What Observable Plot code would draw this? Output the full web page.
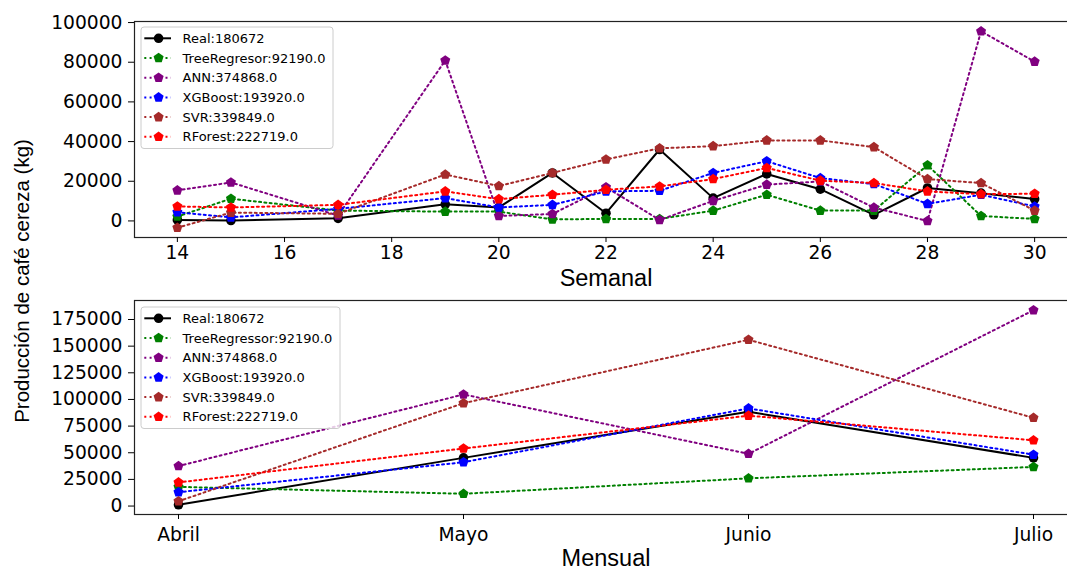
<!DOCTYPE html>
<html><head><meta charset="utf-8">
<script src="https://cdn.jsdelivr.net/npm/d3@7"></script>
<script src="https://cdn.jsdelivr.net/npm/@observablehq/plot@0.6"></script>
<style>
html,body{margin:0;padding:0;background:#fff;overflow:hidden}
#wrap{position:relative;width:1067px;height:571px;overflow:hidden;font-family:"DejaVu Sans",sans-serif;color:#000}
#wrap svg{max-width:none !important;height:auto}
#top,#bottom{position:absolute;left:0;width:1080px}
#top{top:0}
#bottom{top:290px}
.legend{position:absolute}
#ylab{position:absolute;left:0;top:0}
</style></head>
<body><div id="wrap"><div id="top"></div><div id="bottom"></div><svg id="ylab" width="60" height="571"></svg></div>
<script>
// ---- data ----
const weeks = [14, 15, 17, 19, 20, 21, 22, 23, 24, 25, 26, 27, 28, 29, 30];
const realWeekly = [500, 200, 1300, 8400, 6800, 24200, 3900, 36000, 11500, 23700, 16000, 3100, 16600, 14000, 11000];
const treeWeekly = [2200, 11200, 5200, 4700, 4700, 800, 1000, 1000, 5200, 13200, 5200, 5200, 28100, 2500, 1000];
const annWeekly = [15400, 19400, 2700, 80900, 2500, 3500, 17000, 500, 10100, 18300, 19900, 6700, 0, 95600, 80300];
const xgbWeekly = [4400, 1800, 6100, 11500, 6800, 8100, 14900, 15200, 24200, 30100, 21600, 18600, 8600, 13200, 7300];
const svrWeekly = [-3400, 4200, 3600, 23400, 17600, 24200, 31000, 36600, 37700, 40600, 40600, 37200, 21100, 19100, 5200];
const rfWeekly = [7300, 6800, 8100, 14900, 11000, 13200, 15700, 17400, 21100, 26700, 20300, 19100, 14900, 13500, 13700];

const months = ["Abril", "Mayo", "Junio", "Julio"];
const realMonthly = [1200, 45200, 88400, 45200];
const treeMonthly = [18000, 11500, 26000, 36700];
const annMonthly = [37500, 104700, 49000, 183700];
const xgbMonthly = [13000, 41100, 91600, 48200];
const svrMonthly = [4500, 96500, 156000, 82800];
const rfMonthly = [22200, 54000, 84800, 61700];

const seriesColors = ["black", "green", "purple", "blue", "brown", "red"];
const weeklyLegend = ["Real:180672", "TreeRegresor:92190.0", "ANN:374868.0", "XGBoost:193920.0", "SVR:339849.0", "RForest:222719.0"];
const monthlyLegend = ["Real:180672", "TreeRegressor:92190.0", "ANN:374868.0", "XGBoost:193920.0", "SVR:339849.0", "RForest:222719.0"];
const weeklyTicksX = [14, 16, 18, 20, 22, 24, 26, 28, 30];
const weeklyTicksY = [0, 20000, 40000, 60000, 80000, 100000];
const monthlyTicksY = [0, 25000, 50000, 75000, 100000, 125000, 150000, 175000];
const yTitle = "Producción de café cereza (kg)";
const xTitleWeekly = "Semanal";
const xTitleMonthly = "Mensual";

// ---- helpers ----
const pentagon = {
  draw(ctx, size) {
    const r = Math.sqrt(size / Math.PI) * 1.15;
    for (let i = 0; i < 5; i++) {
      const a = -Math.PI / 2 + i * 2 * Math.PI / 5;
      const x = r * Math.cos(a), y = r * Math.sin(a);
      if (i) ctx.lineTo(x, y); else ctx.moveTo(x, y);
    }
    ctx.closePath();
  }
};

function longTable(xs, cols) {
  const rows = [];
  cols.forEach((vals, s) => vals.forEach((v, i) => rows.push({x: xs[i], v, s})));
  return rows;
}

function seriesMarks(rows) {
  const marks = [];
  seriesColors.forEach((c, s) => {
    const d = rows.filter(r => r.s === s);
    const real = s === 0;
    marks.push(Plot.line(d, {x: "x", y: "v", stroke: c, strokeWidth: 2, strokeDasharray: real ? null : "2,3.3", curve: "linear"}));
    marks.push(Plot.dot(d, {x: "x", y: "v", fill: c, stroke: "none", r: real ? 4.8 : 4.6, symbol: real ? "circle" : pentagon}));
  });
  return marks;
}

const FONT = "DejaVu Sans, sans-serif";
const TITLE_FONT = "Liberation Sans, Arial, sans-serif";
const TICK_FS = 18.7;
const TITLE_FS = 23.5;

// ---- top (weekly) ----
const weeklyRows = longTable(weeks, [realWeekly, treeWeekly, annWeekly, xgbWeekly, svrWeekly, rfWeekly]);
const topPlot = Plot.plot({
  width: 1080, height: 290,
  marginTop: 21, marginBottom: 53, marginLeft: 134, marginRight: 3,
  style: {fontFamily: FONT, background: "transparent", color: "#000", overflow: "visible", maxWidth: "none"},
  x: {domain: [13.2, 30.8], label: null},
  y: {domain: [-8350, 100530], label: null},
  marks: [
    ...seriesMarks(weeklyRows),
    Plot.frame({stroke: "#222", strokeWidth: 1.2}),
    Plot.axisY({ticks: weeklyTicksY, tickFormat: d => String(d), tickSize: 6, tickPadding: 6, fontSize: TICK_FS, label: null}),
    Plot.axisX({ticks: weeklyTicksX, tickFormat: d => String(d), tickSize: 5, tickPadding: 3, fontSize: TICK_FS, label: null}),
    Plot.text([xTitleWeekly], {text: d => d, frameAnchor: "bottom", dy: 48, fontSize: TITLE_FS, fontFamily: TITLE_FONT})
  ]
});
document.getElementById("top").appendChild(topPlot);

// ---- bottom (monthly) ----
const monthlyRows = longTable(months, [realMonthly, treeMonthly, annMonthly, xgbMonthly, svrMonthly, rfMonthly]);
const bottomPlot = Plot.plot({
  width: 1080, height: 281,
  marginTop: 10, marginBottom: 57, marginLeft: 134, marginRight: 3,
  style: {fontFamily: FONT, background: "transparent", color: "#000", overflow: "visible", maxWidth: "none"},
  x: {type: "point", domain: months, padding: 0.15, label: null},
  y: {domain: [-7925, 192825], label: null},
  marks: [
    ...seriesMarks(monthlyRows),
    Plot.frame({stroke: "#222", strokeWidth: 1.2}),
    Plot.axisY({ticks: monthlyTicksY, tickFormat: d => String(d), tickSize: 6, tickPadding: 6, fontSize: TICK_FS, label: null}),
    Plot.axisX({tickSize: 5, tickPadding: 8, fontSize: TICK_FS, label: null}),
    Plot.text([xTitleMonthly], {text: d => d, frameAnchor: "bottom", dy: 51, fontSize: TITLE_FS, fontFamily: TITLE_FONT})
  ]
});
document.getElementById("bottom").appendChild(bottomPlot);

// ---- legends ----
function legend(labels, left, top, width) {
  const rowH = 19.7, h = 16 + rowH * (labels.length - 1) + 7;
  const svg = d3.select("#wrap").append("svg").attr("class", "legend")
    .attr("width", width + 2).attr("height", h + 2)
    .style("left", (left - 1) + "px").style("top", (top - 1) + "px");
  svg.append("rect").attr("x", 1).attr("y", 1).attr("width", width).attr("height", h)
    .attr("rx", 3).attr("fill", "#fff").attr("fill-opacity", 0.8).attr("stroke", "#ccc").attr("stroke-width", 1);
  labels.forEach((lab, i) => {
    const y = 1 + 11.3 + i * rowH;
    const c = seriesColors[i];
    svg.append("line").attr("x1", 4.3).attr("x2", 31).attr("y1", y).attr("y2", y)
      .attr("stroke", c).attr("stroke-width", 2).attr("stroke-dasharray", i === 0 ? null : "2,3.3");
    svg.append("path").attr("transform", `translate(18.6,${y})`)
      .attr("d", d3.symbol().type(i === 0 ? d3.symbolCircle : pentagon).size(Math.PI * (i === 0 ? 4.8 : 4.6) ** 2)())
      .attr("fill", c);
    svg.append("text").attr("x", 42.6).attr("y", y).attr("dy", "0.35em")
      .attr("font-family", "DejaVu Sans, sans-serif").attr("font-size", 13).attr("fill", "#000").text(lab);
  });
}
legend(weeklyLegend, 141, 27, 192);
legend(monthlyLegend, 141, 307, 199);

// ---- shared y title ----
d3.select("#ylab").append("text")
  .attr("transform", "translate(21,281) rotate(-90)")
  .attr("text-anchor", "middle").attr("dominant-baseline", "central")
  .attr("font-family", TITLE_FONT).attr("font-size", 20.5).attr("fill", "#000")
  .text(yTitle);
</script>
</body></html>
